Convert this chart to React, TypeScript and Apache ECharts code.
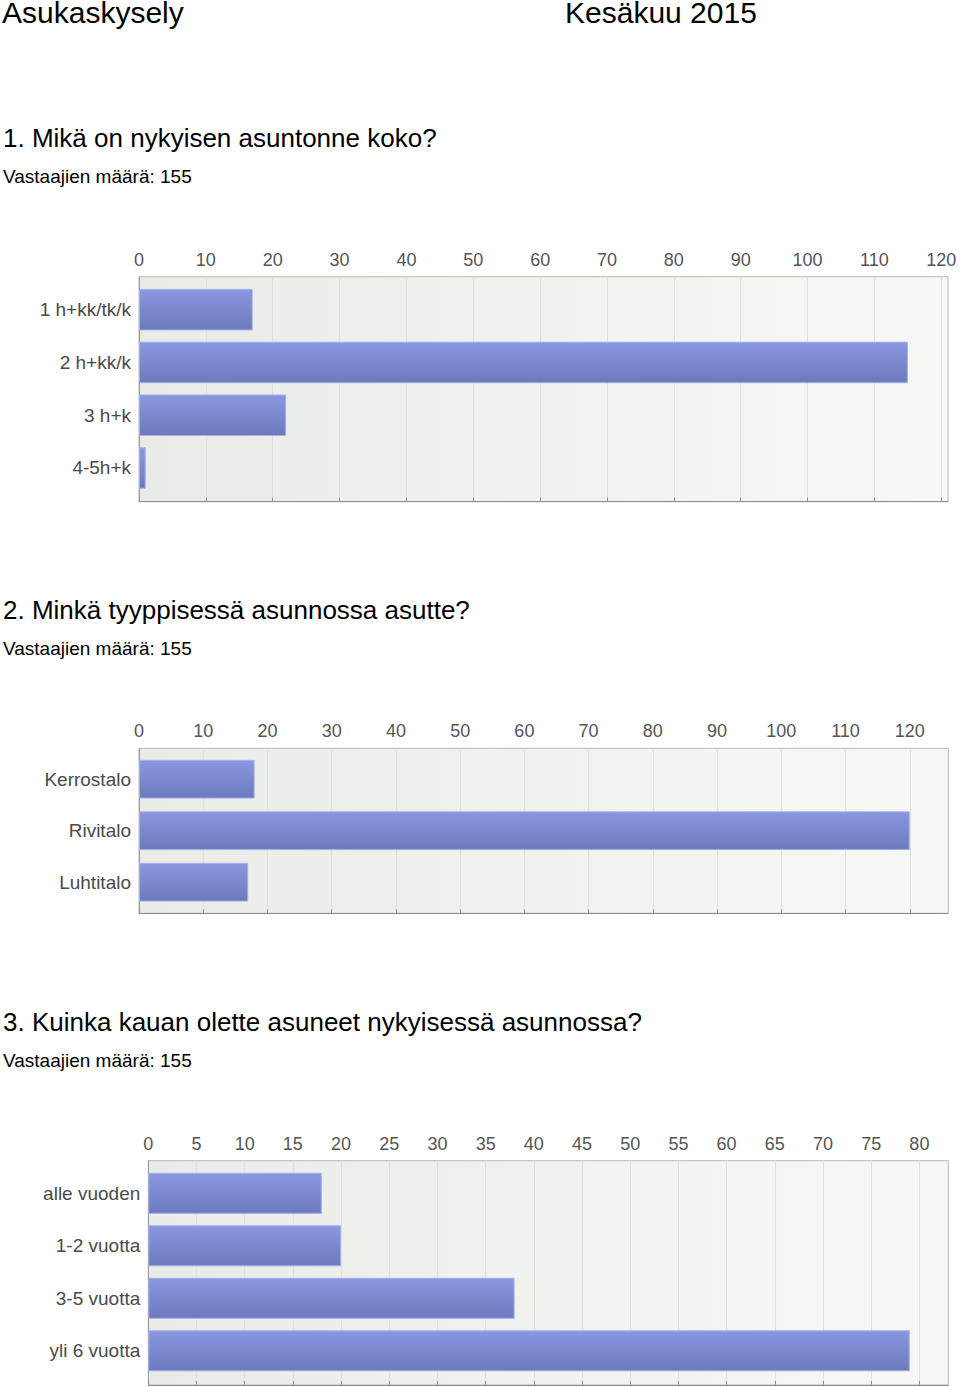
import React, { useEffect, useRef } from 'react';
import * as echarts from 'echarts';

// ---- data ----
const q1Categories = ['1 h+kk/tk/k', '2 h+kk/k', '3 h+k', '4-5h+k'];
const q1Values = [17, 115, 22, 1];
const q1Ticks = [0, 10, 20, 30, 40, 50, 60, 70, 80, 90, 100, 110, 120];

const q2Categories = ['Kerrostalo', 'Rivitalo', 'Luhtitalo'];
const q2Values = [18, 120, 17];
const q2Ticks = [0, 10, 20, 30, 40, 50, 60, 70, 80, 90, 100, 110, 120];

const q3Categories = ['alle vuoden', '1-2 vuotta', '3-5 vuotta', 'yli 6 vuotta'];
const q3Values = [18, 20, 38, 79];
const q3Ticks = [0, 5, 10, 15, 20, 25, 30, 35, 40, 45, 50, 55, 60, 65, 70, 75, 80];

const headerLeft = 'Asukaskysely';
const headerRight = 'Kesäkuu 2015';
const questions = [
  '1. Mikä on nykyisen asuntonne koko?',
  '2. Minkä tyyppisessä asunnossa asutte?',
  '3. Kuinka kauan olette asuneet nykyisessä asunnossa?',
];
const respondents = ['Vastaajien määrä: 155', 'Vastaajien määrä: 155', 'Vastaajien määrä: 155'];

// ---- layout ----
const FONT = '"Liberation Sans", Arial, Helvetica, sans-serif';
const layouts = [
  { plotTop: 276.7, plotBottom: 501.7, left: 139, right: 948, barTop: 283.3, barBand: 52.77, barWidth: 41.5, max: 121, interval: 10, titleBase: 146.7, subBase: 183.3 },
  { plotTop: 748.3, plotBottom: 913.3, left: 139, right: 948.3, barTop: 753.45, barBand: 51.5, barWidth: 38.7, max: 126, interval: 10, titleBase: 618.7, subBase: 655.3 },
  { plotTop: 1160.7, plotBottom: 1385, left: 148.3, right: 948.3, barTop: 1167.05, barBand: 52.5, barWidth: 41, max: 83, interval: 5, titleBase: 1030.7, subBase: 1067.3 },
];

const charts = [
  { cats: q1Categories, vals: q1Values, ticks: q1Ticks },
  { cats: q2Categories, vals: q2Values, ticks: q2Ticks },
  { cats: q3Categories, vals: q3Values, ticks: q3Ticks },
];

function textEl(text: string, x: number, baseline: number, fontSize: number) {
  return {
    type: 'text',
    x,
    y: baseline - 0.3465 * fontSize,
    silent: true,
    style: {
      text,
      fontSize,
      fontFamily: FONT,
      fill: '#000',
      verticalAlign: 'middle',
      align: 'left',
    },
  };
}

function buildOption() {
  const grid: any[] = [];
  const xAxis: any[] = [];
  const yAxis: any[] = [];
  const series: any[] = [];

  charts.forEach((c, i) => {
    const L = layouts[i];
    const bgIndex = i * 2;
    const barIndex = i * 2 + 1;
    const width = L.right - L.left;
    const tickSet = c.ticks;

    grid.push({
      left: L.left,
      top: L.plotTop,
      width,
      height: L.plotBottom - L.plotTop,
      show: true,
      backgroundColor: new echarts.graphic.LinearGradient(0, 0, 1, 0, [
        { offset: 0, color: '#e9ece6' },
        { offset: 1, color: '#f7f8f5' },
      ]),
      borderColor: '#b8b8b8',
      borderWidth: 1,
      containLabel: false,
      outerBoundsMode: 'none',
    });
    grid.push({
      left: L.left,
      top: L.barTop,
      width,
      height: L.barBand * c.cats.length,
      show: false,
      containLabel: false,
      outerBoundsMode: 'none',
    });

    xAxis.push({
      type: 'value',
      gridIndex: bgIndex,
      position: 'top',
      min: 0,
      max: L.max,
      interval: L.interval,
      axisLine: { show: true, lineStyle: { color: '#8c8c8c', width: 1 } },
      axisTick: { show: true, length: 4, lineStyle: { color: '#8c8c8c' }, customValues: tickSet },
      axisLabel: {
        show: true,
        fontSize: 18,
        fontFamily: FONT,
        color: '#555',
        margin: 8,
        customValues: tickSet,
        hideOverlap: false,
        formatter: (v: number) => (tickSet.indexOf(v) >= 0 ? String(v) : ''),
      },
      splitLine: { show: true, lineStyle: { color: '#e0e0e0', width: 1 } },
    });
    xAxis.push({
      type: 'value',
      gridIndex: barIndex,
      min: 0,
      max: L.max,
      show: false,
    });

    yAxis.push({
      type: 'value',
      gridIndex: bgIndex,
      min: 0,
      max: 1,
      axisLine: { show: true, lineStyle: { color: '#9a9a9a' } },
      axisTick: { show: false },
      axisLabel: { show: false },
      splitLine: { show: false },
    });
    yAxis.push({
      type: 'category',
      gridIndex: barIndex,
      data: c.cats,
      inverse: true,
      axisLine: { show: false },
      axisTick: { show: false },
      axisLabel: { fontSize: 19, fontFamily: FONT, color: '#4a4a4a', margin: 8 },
      splitLine: { show: false },
    });

    series.push({
      type: 'bar',
      xAxisIndex: barIndex,
      yAxisIndex: barIndex,
      data: c.vals,
      barWidth: L.barWidth,
      itemStyle: {
        color: new echarts.graphic.LinearGradient(0, 0, 0, 1, [
          { offset: 0, color: '#8a97e0' },
          { offset: 1, color: '#6c7abd' },
        ]),
        borderColor: '#a4aee8',
        borderWidth: 1,
      },
      emphasis: { disabled: true },
    });
  });

  const graphic: any[] = [
    textEl(headerLeft, 2, 22.5, 30),
    textEl(headerRight, 565, 22.5, 30),
  ];
  layouts.forEach((L, i) => {
    graphic.push(textEl(questions[i], 3, L.titleBase, 26));
    graphic.push(textEl(respondents[i], 3, L.subBase, 19));
  });

  return {
    animation: false,
    backgroundColor: '#ffffff',
    grid,
    xAxis,
    yAxis,
    series,
    graphic,
  };
}

export default function App() {
  const ref = useRef<HTMLDivElement>(null);
  useEffect(() => {
    if (!ref.current) return;
    const chart = echarts.init(ref.current, undefined, { renderer: 'svg' });
    chart.setOption(buildOption() as any);
    return () => {
      chart.dispose();
    };
  }, []);
  return (
    <div
      ref={ref}
      style={{ position: 'absolute', left: 0, top: 0, width: 960, height: 1387 }}
    />
  );
}
